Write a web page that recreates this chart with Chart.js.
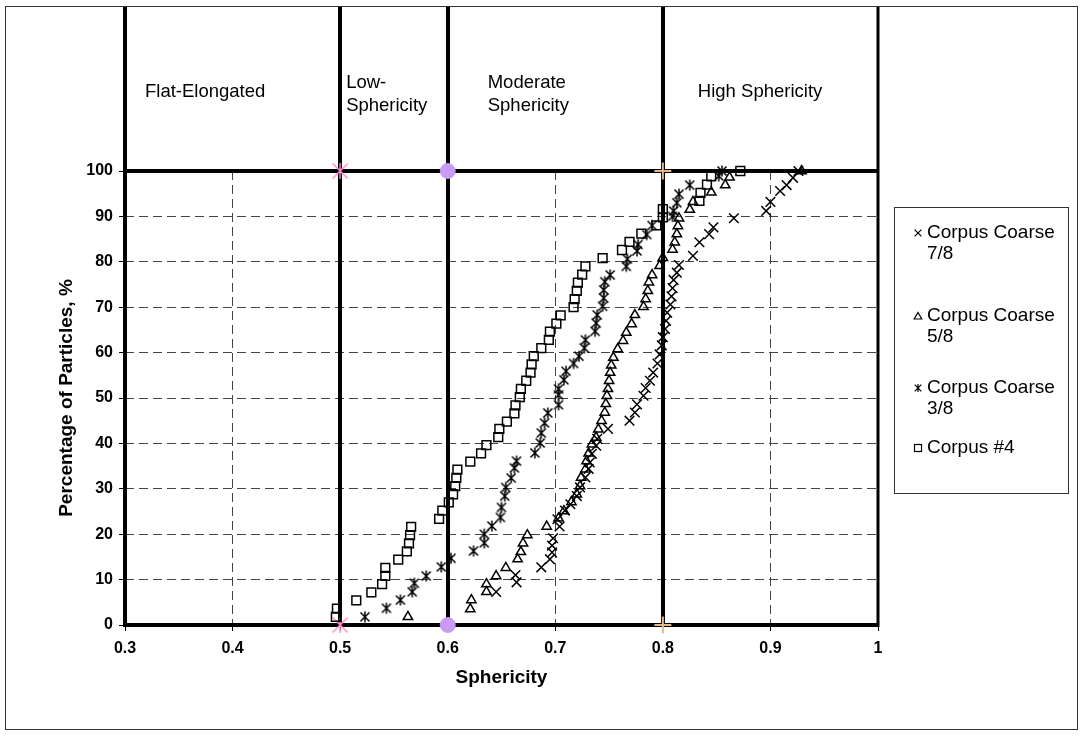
<!DOCTYPE html>
<html><head><meta charset="utf-8">
<script src="https://cdn.jsdelivr.net/npm/chart.js"></script>
<style>html,body{margin:0;padding:0;background:#fff}canvas{display:block}</style>
</head><body>
<canvas id="c" width="1082" height="736"></canvas>
<script>
// ---------- data ----------
const seriesNames = ['Corpus Coarse 7/8', 'Corpus Coarse 5/8', 'Corpus Coarse 3/8', 'Corpus #4'];

const cc78X = [0.645,0.664,0.663,0.687,0.695,0.697,0.697,0.698,0.704,0.702,0.709,0.714,0.720,0.723,0.728,0.731,0.732,0.734,0.738,0.739,0.749,0.769,0.774,0.776,0.782,0.784,0.788,0.791,0.795,0.797,0.799,0.800,0.802,0.803,0.804,0.807,0.808,0.809,0.810,0.813,0.815,0.828,0.834,0.843,0.847,0.866,0.896,0.900,0.909,0.915,0.921,0.926];
const cc78Y = [7.3,9.4,11.0,12.7,14.5,16.0,17.5,19.1,21.7,23.3,25.2,26.6,28.4,30.3,32.5,34.4,35.8,37.7,39.5,41.0,43.2,45.0,46.8,48.6,50.5,52.2,53.8,55.6,57.6,59.6,61.6,63.4,65.2,67.0,68.8,70.6,72.4,74.2,76.0,77.6,79.3,81.3,84.3,86.1,87.6,89.6,91.2,93.2,95.6,96.9,98.5,100];

const cc58X = [0.563,0.621,0.622,0.636,0.636,0.645,0.654,0.665,0.668,0.670,0.674,0.692,0.703,0.708,0.715,0.720,0.723,0.724,0.728,0.729,0.731,0.734,0.738,0.740,0.743,0.746,0.747,0.748,0.749,0.750,0.751,0.752,0.754,0.758,0.763,0.766,0.771,0.774,0.782,0.784,0.786,0.787,0.790,0.797,0.800,0.809,0.811,0.813,0.814,0.815,0.825,0.828,0.845,0.858,0.862,0.929];
const cc58Y = [1.8,3.5,5.5,7.3,9.0,10.8,12.6,14.5,16.1,18.0,19.8,21.7,23.5,25.1,27.1,28.8,30.6,32.5,34.3,36.1,37.8,39.8,41.3,43.1,45.0,46.8,48.7,50.5,52.0,53.8,55.6,57.2,58.9,60.8,62.6,64.4,66.3,68.3,70.1,71.8,73.6,75.5,77.1,79.1,80.9,82.7,84.3,86.1,87.9,89.6,91.5,93.2,95.3,96.9,98.6,100];

const cc38X = [0.523,0.543,0.556,0.567,0.569,0.580,0.594,0.603,0.624,0.634,0.634,0.641,0.649,0.650,0.653,0.654,0.659,0.662,0.664,0.681,0.686,0.687,0.690,0.693,0.703,0.703,0.703,0.708,0.710,0.717,0.722,0.727,0.728,0.737,0.738,0.739,0.744,0.745,0.745,0.746,0.751,0.766,0.767,0.776,0.777,0.785,0.790,0.809,0.810,0.813,0.815,0.825,0.852,0.855];
const cc38Y = [1.8,3.7,5.5,7.3,9.2,10.8,12.8,14.7,16.3,18.1,20.0,21.8,23.7,25.9,28.4,30.3,32.4,34.6,36.1,37.9,40.1,42.3,44.5,46.7,48.5,50.7,52.0,54.0,55.9,57.6,59.2,61.0,62.8,64.7,66.5,68.3,70.2,72.0,73.8,75.6,77.1,79.0,80.6,82.4,83.8,86.0,88.0,90.0,91.2,93.0,94.9,96.9,98.9,100];

const c4X = [0.496,0.497,0.515,0.529,0.539,0.542,0.542,0.554,0.562,0.564,0.565,0.566,0.592,0.595,0.601,0.605,0.607,0.608,0.609,0.621,0.631,0.636,0.647,0.648,0.655,0.662,0.663,0.667,0.668,0.673,0.677,0.678,0.680,0.687,0.694,0.695,0.701,0.705,0.717,0.718,0.720,0.721,0.725,0.728,0.744,0.762,0.769,0.780,0.794,0.800,0.800,0.834,0.835,0.841,0.845,0.872];
const c4Y = [1.8,3.6,5.4,7.2,9.0,10.8,12.6,14.4,16.2,18.0,19.8,21.6,23.4,25.2,27.0,28.8,30.6,32.4,34.2,36.0,37.8,39.6,41.4,43.2,44.8,46.6,48.4,50.2,52.0,53.8,55.6,57.4,59.2,61.0,62.8,64.6,66.4,68.2,70.0,71.8,73.6,75.4,77.2,79.0,80.8,82.6,84.4,86.2,88.0,89.8,91.6,93.4,95.2,97.0,98.8,100];

const xTickLabels = ['0.3','0.4','0.5','0.6','0.7','0.8','0.9','1'];
const yTickLabels = ['0','10','20','30','40','50','60','70','80','90','100'];
const zoneEdges = [0.3, 0.5, 0.6, 0.8, 1.0];
const zoneLabels = [['Flat-Elongated'], ['Low-', 'Sphericity'], ['Moderate', 'Sphericity'], ['High Sphericity']];
const boundaryX = [0.5, 0.6, 0.8];
const boundaryY = [0, 100];

// ---------- styling helpers ----------
const FONT = '"Liberation Sans", Arial, sans-serif';
function makeStar(size, r, color, lw, diag) {
  const c = document.createElement('canvas');
  c.width = size; c.height = size;
  const g = c.getContext('2d');
  g.strokeStyle = color; g.lineWidth = lw;
  const m = size / 2;
  g.beginPath();
  g.moveTo(m - diag, m - diag); g.lineTo(m + diag, m + diag);
  g.moveTo(m + diag, m - diag); g.lineTo(m - diag, m + diag);
  g.moveTo(m, m - r); g.lineTo(m, m + r);
  g.stroke();
  return c;
}
const asterisk = makeStar(14, 5.5, '#000', 1.5, 4.5);
const asteriskSmall = makeStar(10, 4, '#000', 1.2, 3.3);
const pinkStar = makeStar(20, 8, '#ff8fcf', 1.5, 7.5);

const pts = (xs, ys) => xs.map((x, i) => ({x: x, y: ys[i]}));
const base = {showLine: false, clip: false, borderColor: '#000', backgroundColor: 'rgba(0,0,0,0)', pointBorderWidth: 1.5, pointHoverRadius: 0};

const datasets = [
  Object.assign({}, base, {label: seriesNames[0], data: pts(cc78X, cc78Y), pointStyle: 'crossRot', pointRadius: 6.8}),
  Object.assign({}, base, {label: seriesNames[1], data: pts(cc58X, cc58Y), pointStyle: 'triangle', pointRadius: 5.4}),
  Object.assign({}, base, {label: seriesNames[2], data: pts(cc38X, cc38Y), pointStyle: asterisk, pointRadius: 6}),
  Object.assign({}, base, {label: seriesNames[3], data: pts(c4X, c4Y), pointStyle: 'rect', pointRadius: 6.2}),
  Object.assign({}, base, {label: 'b05', data: boundaryY.map(y => ({x: boundaryX[0], y: y})), pointStyle: pinkStar, pointRadius: 8}),
  Object.assign({}, base, {label: 'b06', data: boundaryY.map(y => ({x: boundaryX[1], y: y})), pointStyle: 'circle', pointRadius: 7.5, borderColor: '#c99bf5', backgroundColor: '#c99bf5', pointBorderWidth: 1}),
  Object.assign({}, base, {label: 'b08', data: boundaryY.map(y => ({x: boundaryX[2], y: y})), pointStyle: 'cross', pointRadius: 8.5, borderColor: '#e8b68a', pointBorderWidth: 2})
];

const FRAME = {l: 5.5, t: 6.5, r: 1077.5, b: 729.5};

const overlay = {
  id: 'overlay',
  beforeDraw(chart) {
    const ctx = chart.ctx;
    ctx.save(); ctx.fillStyle = '#fff'; ctx.fillRect(0, 0, chart.width, chart.height); ctx.restore();
  },
  beforeDatasetsDraw(chart) {
    const {ctx, chartArea: a, scales: {x, y}} = chart;
    ctx.save();
    ctx.strokeStyle = '#000';
    ctx.lineWidth = 4;
    boundaryY.forEach(v => {
      const py = Math.round(y.getPixelForValue(v));
      ctx.beginPath(); ctx.moveTo(a.left - 2, py); ctx.lineTo(a.right + 1, py); ctx.stroke();
    });
    zoneEdges.forEach((v, i) => {
      const px = Math.round(x.getPixelForValue(v));
      ctx.lineWidth = i === zoneEdges.length - 1 ? 3 : 4;
      ctx.beginPath(); ctx.moveTo(px, FRAME.t); ctx.lineTo(px, a.bottom + 2); ctx.stroke();
    });
    ctx.restore();
  },
  afterDraw(chart) {
    const {ctx, scales: {x}} = chart;
    ctx.save();
    ctx.strokeStyle = '#333'; ctx.lineWidth = 1;
    ctx.strokeRect(FRAME.l, FRAME.t, FRAME.r - FRAME.l, FRAME.b - FRAME.t);
    ctx.fillStyle = '#000';
    ctx.font = '18.5px ' + FONT;
    ctx.textBaseline = 'middle'; ctx.textAlign = 'left';
    const offs = [20, 6, 40, 35];
    zoneLabels.forEach((lines, i) => {
      const lx = x.getPixelForValue(zoneEdges[i]) + offs[i];
      const yc = lines.length === 1 ? [92] : [83, 106];
      lines.forEach((t, j) => ctx.fillText(t, lx, yc[j]));
    });
    const L = {l: 894.5, t: 207.5, w: 174, h: 286};
    ctx.strokeStyle = '#333'; ctx.lineWidth = 1;
    ctx.strokeRect(L.l, L.t, L.w, L.h);
    ctx.font = '19px ' + FONT;
    const rows = [[233, 254], [316, 337], [388, 409], [448]];
    const mx = 918, tx = 927;
    seriesNames.forEach((name, i) => {
      const cut = name.lastIndexOf(' ');
      const lines = ctx.measureText(name).width > 135 ? [name.slice(0, cut), name.slice(cut + 1)] : [name];
      lines.forEach((t, j) => ctx.fillText(t, tx, rows[i][j]));
      const my = rows[i][0];
      ctx.strokeStyle = '#000'; ctx.lineWidth = 1.2;
      ctx.beginPath();
      if (i === 0) {
        ctx.moveTo(mx - 3.4, my - 3.4); ctx.lineTo(mx + 3.4, my + 3.4);
        ctx.moveTo(mx + 3.4, my - 3.4); ctx.lineTo(mx - 3.4, my + 3.4);
        ctx.stroke();
      } else if (i === 1) {
        ctx.moveTo(mx, my - 3.5); ctx.lineTo(mx + 3.8, my + 3); ctx.lineTo(mx - 3.8, my + 3); ctx.closePath();
        ctx.stroke();
      } else if (i === 2) {
        ctx.drawImage(asteriskSmall, mx - 5, my - 5);
      } else {
        ctx.strokeRect(mx - 3.5, my - 3.5, 7, 7);
      }
    });
    ctx.restore();
  }
};

new Chart(document.getElementById('c'), {
  type: 'scatter',
  data: {datasets: datasets},
  options: {
    responsive: false,
    animation: false,
    devicePixelRatio: 1,
    events: [],
    layout: {padding: {left: 0, top: 171, right: 204, bottom: 0}},
    plugins: {legend: {display: false}, tooltip: {enabled: false}},
    scales: {
      x: {
        type: 'linear', min: 0.3, max: 1.0,
        afterFit: s => { s.height = 111; },
        ticks: {stepSize: 0.1, color: '#000', padding: 8, font: {family: FONT, size: 16, weight: 'bold'},
          callback: (v, i) => xTickLabels[i]},
        grid: {color: '#444', lineWidth: 1, tickLength: 6, tickColor: '#000', tickBorderDash: []},
        border: {display: false, dash: [9, 5]},
        title: {display: true, text: 'Sphericity', color: '#000', font: {family: FONT, size: 19, weight: 'bold'}, padding: {top: 0, bottom: 46.6}}
      },
      y: {
        type: 'linear', min: 0, max: 100,
        afterFit: s => { s.width = 125; },
        ticks: {stepSize: 10, color: '#000', padding: 6, font: {family: FONT, size: 16, weight: 'bold'},
          callback: (v, i) => yTickLabels[i]},
        grid: {color: '#444', lineWidth: 1, tickLength: 6, tickColor: '#000', tickBorderDash: []},
        border: {display: false, dash: [9, 5]},
        title: {display: true, text: 'Percentage of Particles, %', color: '#000', font: {family: FONT, size: 19, weight: 'bold'}, padding: {top: 55.6, bottom: 0}}
      }
    }
  },
  plugins: [overlay]
});
</script>
</body></html>
